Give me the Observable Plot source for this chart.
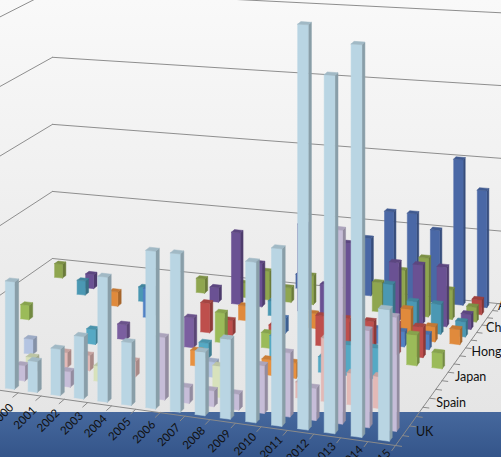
<!DOCTYPE html>
<html><head><meta charset="utf-8">
<script src="https://cdn.jsdelivr.net/npm/d3@7"></script>
<script src="https://cdn.jsdelivr.net/npm/@observablehq/plot@0.6"></script>
<style>
html,body{margin:0;padding:0;overflow:hidden;}
#chart{position:relative;width:501px;height:457px;background:linear-gradient(to bottom,#f9f9f9 0px,#e5e5e5 412px,#46689d 412px,#34558a 457px);}
#chart svg{position:absolute;left:0;top:0;}
</style></head><body><div id="chart"></div>
<script>
// categories (x axis)
const years = [1995,1996,1997,1998,1999,2000,2001,2002,2003,2004,2005,2006,2007,2008,2009,2010,2011,2012,2013,2014,2015];
// series, front row first (depth axis shows every third name)
const seriesNames = ["UK","","","Spain","","","Japan","","","Hong Kong","","","China","","","Australia",""];
const seriesColors = ["#B9D5E3","#C6BDD8","#D8E2BC","#E3B9B6","#B4C4E2","#E8913F","#55A9C4","#7B5FA0","#9BBB59","#BE4F4C","#5181C4","#E08A3C","#4B98B3","#6A5193","#8FA64F","#B44845","#4A68A6"];
const depthLabelEvery = 3;
// values per series, years 1995..2015
const valuesUK  = [0,0,0,0,0,7,2,3,4,8,4,10,10,4,5,10,11,25,22,24,8];
const values02  = [0,0,0,0,0,1,0,1,0,0,0,4,1,1,1,3,4,2,12,6,7];
const values03  = [0,0,0,0,0,1,0,0,1,0,0,0,0,2,0,0,0,0,0,0,0];
const valuesSpain = [0,0,0,0,0,0,1,1,0,1,0,0,0,0,0,0,1,4,2,2,0];
const values05  = [0,0,0,0,1,0,0,0,0,0,0,0,1,0,0,0,0,0,0,0,0];
const values06  = [0,0,0,0,0,0,0,0,0,0,0,1,0,0,1,1,0,0,0,0,0];
const valuesJapan = [0,0,0,0,0,0,1,0,0,0,0,1,0,0,2,0,1,2,2,0,0];
const values08  = [0,0,0,0,0,0,0,1,0,0,2,0,0,0,0,0,0,0,0,0,0];
const values09  = [0,0,1,0,0,0,0,0,0,0,0,2,0,1,0,0,0,0,0,2,1];
const valuesHongKong = [0,0,0,0,0,0,0,0,0,0,2,1,0,1,0,2,2,2,2,2,0];
const values11  = [0,0,0,0,0,0,0,2,0,0,0,0,0,1,0,0,1,1,1,1,0];
const values12  = [0,0,0,0,0,1,0,0,0,0,0,1,0,0,1,0,0,0,2,1,1];
const valuesChina = [0,0,0,1,0,0,1,0,0,0,0,0,1,0,0,0,0,3,2,2,1];
const values14  = [0,0,0,1,0,0,0,0,0,1,5,3,0,6,2,5,0,4,4,4,1];
const values15  = [0,1,0,0,0,0,0,0,1,0,1,2,1,2,0,0,2,3,4,2,1];
const valuesAustralia = [0,0,0,0,0,0,0,0,0,0,0,0,0,0,0,0,0,0,0,0,1];
const values17  = [0,0,0,0,0,0,0,0,0,0,0,0,1,0,0,4,6,6,5,10,8];
const gridValues = [0,5,10,15,20];

const seriesValues = [valuesUK,values02,values03,valuesSpain,values05,values06,valuesJapan,values08,values09,valuesHongKong,values11,values12,valuesChina,values14,values15,valuesAustralia,values17];
const nY = years.length, nS = seriesNames.length;

// ---- 3D view: floor homography + vertical scale ----
const floorSrc = [[0,0],[nY,0],[nY,nS],[0,nS]];
const floorDst = [[-114,374],[395,445],[497,303],[52,258]];
function solve(A, b) {
  const n = b.length, M = A.map((r, i) => [...r, b[i]]);
  for (let c = 0; c < n; c++) {
    let p = c; for (let r = c + 1; r < n; r++) if (Math.abs(M[r][c]) > Math.abs(M[p][c])) p = r;
    [M[c], M[p]] = [M[p], M[c]];
    for (let r = 0; r < n; r++) if (r !== c) { const f = M[r][c] / M[c][c]; for (let j = c; j <= n; j++) M[r][j] -= f * M[c][j]; }
  }
  return M.map((r, i) => r[n] / r[i]);
}
const A = [], B = [];
for (let j = 0; j < 4; j++) {
  const [X, Z] = floorSrc[j], [x, y] = floorDst[j];
  A.push([X, Z, 1, 0, 0, 0, -x * X, -x * Z]); B.push(x);
  A.push([0, 0, 0, X, Z, 1, -y * X, -y * Z]); B.push(y);
}
const H = solve(A, B);
const unitPx = 15.0;
function project(X, Z, v) {
  const w = H[6] * X + H[7] * Z + 1;
  return [(H[0] * X + H[1] * Z + H[2]) / w, (H[3] * X + H[4] * Z + H[5]) / w - v * unitPx / Math.pow(w, 0.7)];
}

function shade(c, f) { const r = d3.rgb(c); return d3.rgb(r.r * f, r.g * f, r.b * f).formatHex(); }

// walls gridlines & axes
const lines = [];
let lid = 0;
function addLine(pts) { const id = "l" + (lid++); for (const p of pts) { const [x, y] = project(...p); lines.push({x, y, id}); } }
for (const v of gridValues) {
  addLine([[0, 0, v], [0, nS, v]]);
  addLine([[0, nS, v], [nY + 0.3, nS, v]]);
}
const axes = [];
let aid = 0;
function addAxis(pts) { const id = "a" + (aid++); for (const p of pts) { const [x, y] = project(...p); axes.push({x, y, id}); } }
addAxis([[0, 0, 0], [nY, 0, 0]]);
addAxis([[nY, 0, 0], [nY, nS, 0]]);
for (let k = 0; k <= nY; k++) addAxis([[k, 0, 0], [k, -0.5, 0]]);
for (let s = 0; s <= nS; s++) addAxis([[nY, s, 0], [nY + 0.22, s, 0]]);

// bars as faces, painted back row first, left to right
const faces = [];
let fid = 0;
function addFace(pts, fill) {
  const id = "f" + (fid++);
  for (const p of [...pts, pts[0]]) { const [x, y] = project(...p); faces.push({x, y, id, fill}); }
}
for (let i = nS - 1; i >= 0; i--) {
  for (let k = 0; k < nY; k++) {
    const v = seriesValues[i][k];
    if (!v) continue;
    const c = seriesColors[i];
    const X0 = k + 0.3, X1 = k + 0.7, Z0 = i + 0.3, Z1 = i + 0.7;
    addFace([[X1, Z0, 0], [X1, Z1, 0], [X1, Z1, v], [X1, Z0, v]], shade(c, 0.74));
    addFace([[X0, Z0, 0], [X1, Z0, 0], [X1, Z0, v], [X0, Z0, v]], c);
    addFace([[X0, Z0, v], [X1, Z0, v], [X1, Z1, v], [X0, Z1, v]], shade(c, 0.87));
  }
}

// labels (only those that fall inside the view)
const yearLabels = years.map((yr, k) => {
  const [x, y] = project(k + 0.5, 0, 0);
  const t = (k - 6) / 13;
  return {x: x + 5 + 2 * t, y: y + 14 - 6 * t, text: String(yr)};
}).filter(d => d.x > 0);
const depthLabels = seriesNames.map((name, i) => ({name, i})).filter(d => d.i % depthLabelEvery === 0).map(d => {
  const [x, y] = project(nY, d.i + 0.9, 0);
  const dx = 14 - 8 * Math.pow(d.i / 15, 3);
  return {x: x + dx, y: y - 5, text: d.name};
});

const chart = Plot.plot({
  width: 501, height: 457, margin: 0,
  x: {type: "linear", domain: [0, 501], range: [0, 501], axis: null},
  y: {type: "linear", domain: [0, 457], range: [0, 457], axis: null},
  color: {type: "identity"},
  style: {background: "transparent", overflow: "visible", fontFamily: "Lato"},
  marks: [
    Plot.line(lines, {x: "x", y: "y", z: "id", stroke: "#8e8e8e", strokeWidth: 1}),
    Plot.line(faces, {x: "x", y: "y", z: "id", fill: "fill", stroke: "fill", strokeWidth: 0.5, strokeLinejoin: "round"}),
    Plot.line(axes, {x: "x", y: "y", z: "id", stroke: "#8a8a8a", strokeWidth: 1}),
    Plot.text(yearLabels, {x: "x", y: "y", text: "text", rotate: -45, textAnchor: "end", fontSize: 11.5, fill: "#111", fontFamily: "Lato"}),
    Plot.text(depthLabels, {x: "x", y: "y", text: "text", textAnchor: "start", fontSize: 12.5, fill: "#111", fontFamily: "Lato"})
  ]
});
document.getElementById("chart").appendChild(chart);
</script>
</body></html>
